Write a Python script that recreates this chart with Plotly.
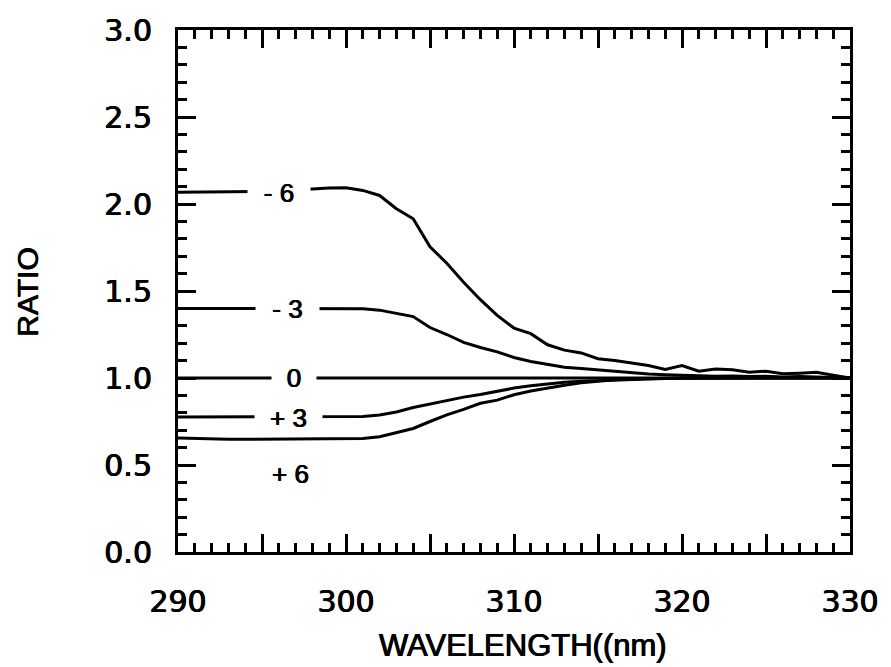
import plotly.graph_objects as go

wavelength = list(range(290, 331))

ratio_m6 = [2.068, 2.068, 2.068, 2.068, 2.070, 2.072, 2.075, 2.082, 2.088, 2.092,
            2.093, 2.078, 2.049, 1.973, 1.915, 1.754, 1.660, 1.550, 1.450, 1.360,
            1.287, 1.255, 1.191, 1.160, 1.144, 1.111, 1.100, 1.088, 1.072, 1.049,
            1.071, 1.039, 1.052, 1.048, 1.033, 1.039, 1.025, 1.028, 1.033, 1.016,
            1.000]
ratio_m3 = [1.400, 1.400, 1.400, 1.400, 1.400, 1.400, 1.400, 1.400, 1.400, 1.400,
            1.400, 1.398, 1.390, 1.370, 1.353, 1.290, 1.250, 1.205, 1.175, 1.150,
            1.118, 1.095, 1.078, 1.062, 1.055, 1.047, 1.039, 1.030, 1.023, 1.019,
            1.016, 1.012, 1.010, 1.012, 1.008, 1.010, 1.006, 1.008, 1.005, 1.005,
            1.000]
ratio_0 = [1.0] * 41
ratio_p3 = [0.776, 0.776, 0.776, 0.776, 0.776, 0.776, 0.776, 0.776, 0.776, 0.776,
            0.776, 0.779, 0.787, 0.805, 0.830, 0.850, 0.866, 0.890, 0.905, 0.925,
            0.942, 0.955, 0.966, 0.975, 0.982, 0.986, 0.989, 0.991, 0.994, 0.997,
            0.998, 0.998, 1.000, 1.000, 1.000, 1.000, 1.000, 1.000, 1.000, 1.000,
            1.000]
ratio_p6 = [0.655, 0.652, 0.648, 0.648, 0.648, 0.648, 0.648, 0.648, 0.648, 0.648,
            0.648, 0.652, 0.662, 0.684, 0.710, 0.750, 0.788, 0.820, 0.855, 0.873,
            0.904, 0.925, 0.943, 0.958, 0.972, 0.982, 0.990, 0.994, 0.997, 0.998,
            1.000, 1.000, 1.000, 1.000, 1.000, 1.000, 1.000, 1.000, 1.000, 1.000,
            1.000]

series = [ratio_m6, ratio_m3, ratio_0, ratio_p3, ratio_p6]

label_text = ["- 6", "- 3", "0", "+ 3", "+ 6"]
label_x = [296.0, 296.5, 296.9, 296.6, 296.7]
label_y = [2.062, 1.396, 1.0, 0.772, 0.45]
label_mask = [62, 63, 44, 67, None]

x_tickvals = [290, 295, 300, 305, 310, 315, 320, 325, 330]
x_ticktext = ["290", "", "300", "", "310", "", "320", "", "330"]
y_tickvals = [0.0, 0.5, 1.0, 1.5, 2.0, 2.5, 3.0]
y_ticktext = ["0.0", "0.5", "1.0", "1.5", "2.0", "2.5", "3.0"]

heavy = "0.5px 0 0 black, -0.5px 0 0 black"

fig = go.Figure()
for s in series:
    fig.add_trace(go.Scatter(x=wavelength, y=s, mode="lines",
                             line=dict(color="black", width=3),
                             showlegend=False, hoverinfo="skip"))

for t, x, y, w in zip(label_text, label_x, label_y, label_mask):
    ann = dict(x=x, y=y, xref="x", yref="y", text=t, showarrow=False,
               font=dict(family="Liberation Sans, Arial, sans-serif", size=26,
                         color="black", shadow=heavy),
               xanchor="center", yanchor="middle")
    if w is not None:
        ann.update(width=w, height=28, bgcolor="white", borderpad=0)
    fig.add_annotation(**ann)

fig.add_annotation(x=0.514, y=-0.179, xref="paper", yref="paper",
                   text="WAVELENGTH((nm)", showarrow=False,
                   font=dict(family="Liberation Sans, Arial, sans-serif", size=31,
                             color="black", shadow=heavy),
                   xanchor="center", yanchor="middle")
fig.add_annotation(x=-0.2245, y=0.497, xref="paper", yref="paper",
                   text="RATIO", showarrow=False, textangle=-90,
                   font=dict(family="Liberation Sans, Arial, sans-serif", size=30,
                             color="black", shadow=heavy),
                   xanchor="center", yanchor="middle")

tickfont = dict(family="DejaVu Sans, sans-serif", size=30, color="black", shadow=heavy)

fig.update_xaxes(range=[290, 330], tickmode="array", tickvals=x_tickvals, ticktext=x_ticktext,
                 ticks="inside", ticklen=18, tickwidth=3, tickcolor="black",
                 minor=dict(dtick=1, tick0=290, ticks="inside", ticklen=9, tickwidth=3, tickcolor="black"),
                 showline=True, linewidth=3, linecolor="black", mirror="ticks",
                 showgrid=False, zeroline=False, tickfont=tickfont, ticklabelstandoff=21)
fig.update_yaxes(range=[0, 3], tickmode="array", tickvals=y_tickvals, ticktext=y_ticktext,
                 ticks="inside", ticklen=18, tickwidth=3, tickcolor="black",
                 minor=dict(dtick=0.1, tick0=0, ticks="inside", ticklen=9, tickwidth=3, tickcolor="black"),
                 showline=True, linewidth=3, linecolor="black", mirror="ticks",
                 showgrid=False, zeroline=False, tickfont=tickfont, ticklabelstandoff=17)

fig.update_layout(width=891, height=667, margin=dict(l=178, r=36, t=27, b=115),
                  plot_bgcolor="white", paper_bgcolor="white")

fig.write_html("out.html", config={"displayModeBar": False},
               post_script="document.body.style.margin='0px';")
